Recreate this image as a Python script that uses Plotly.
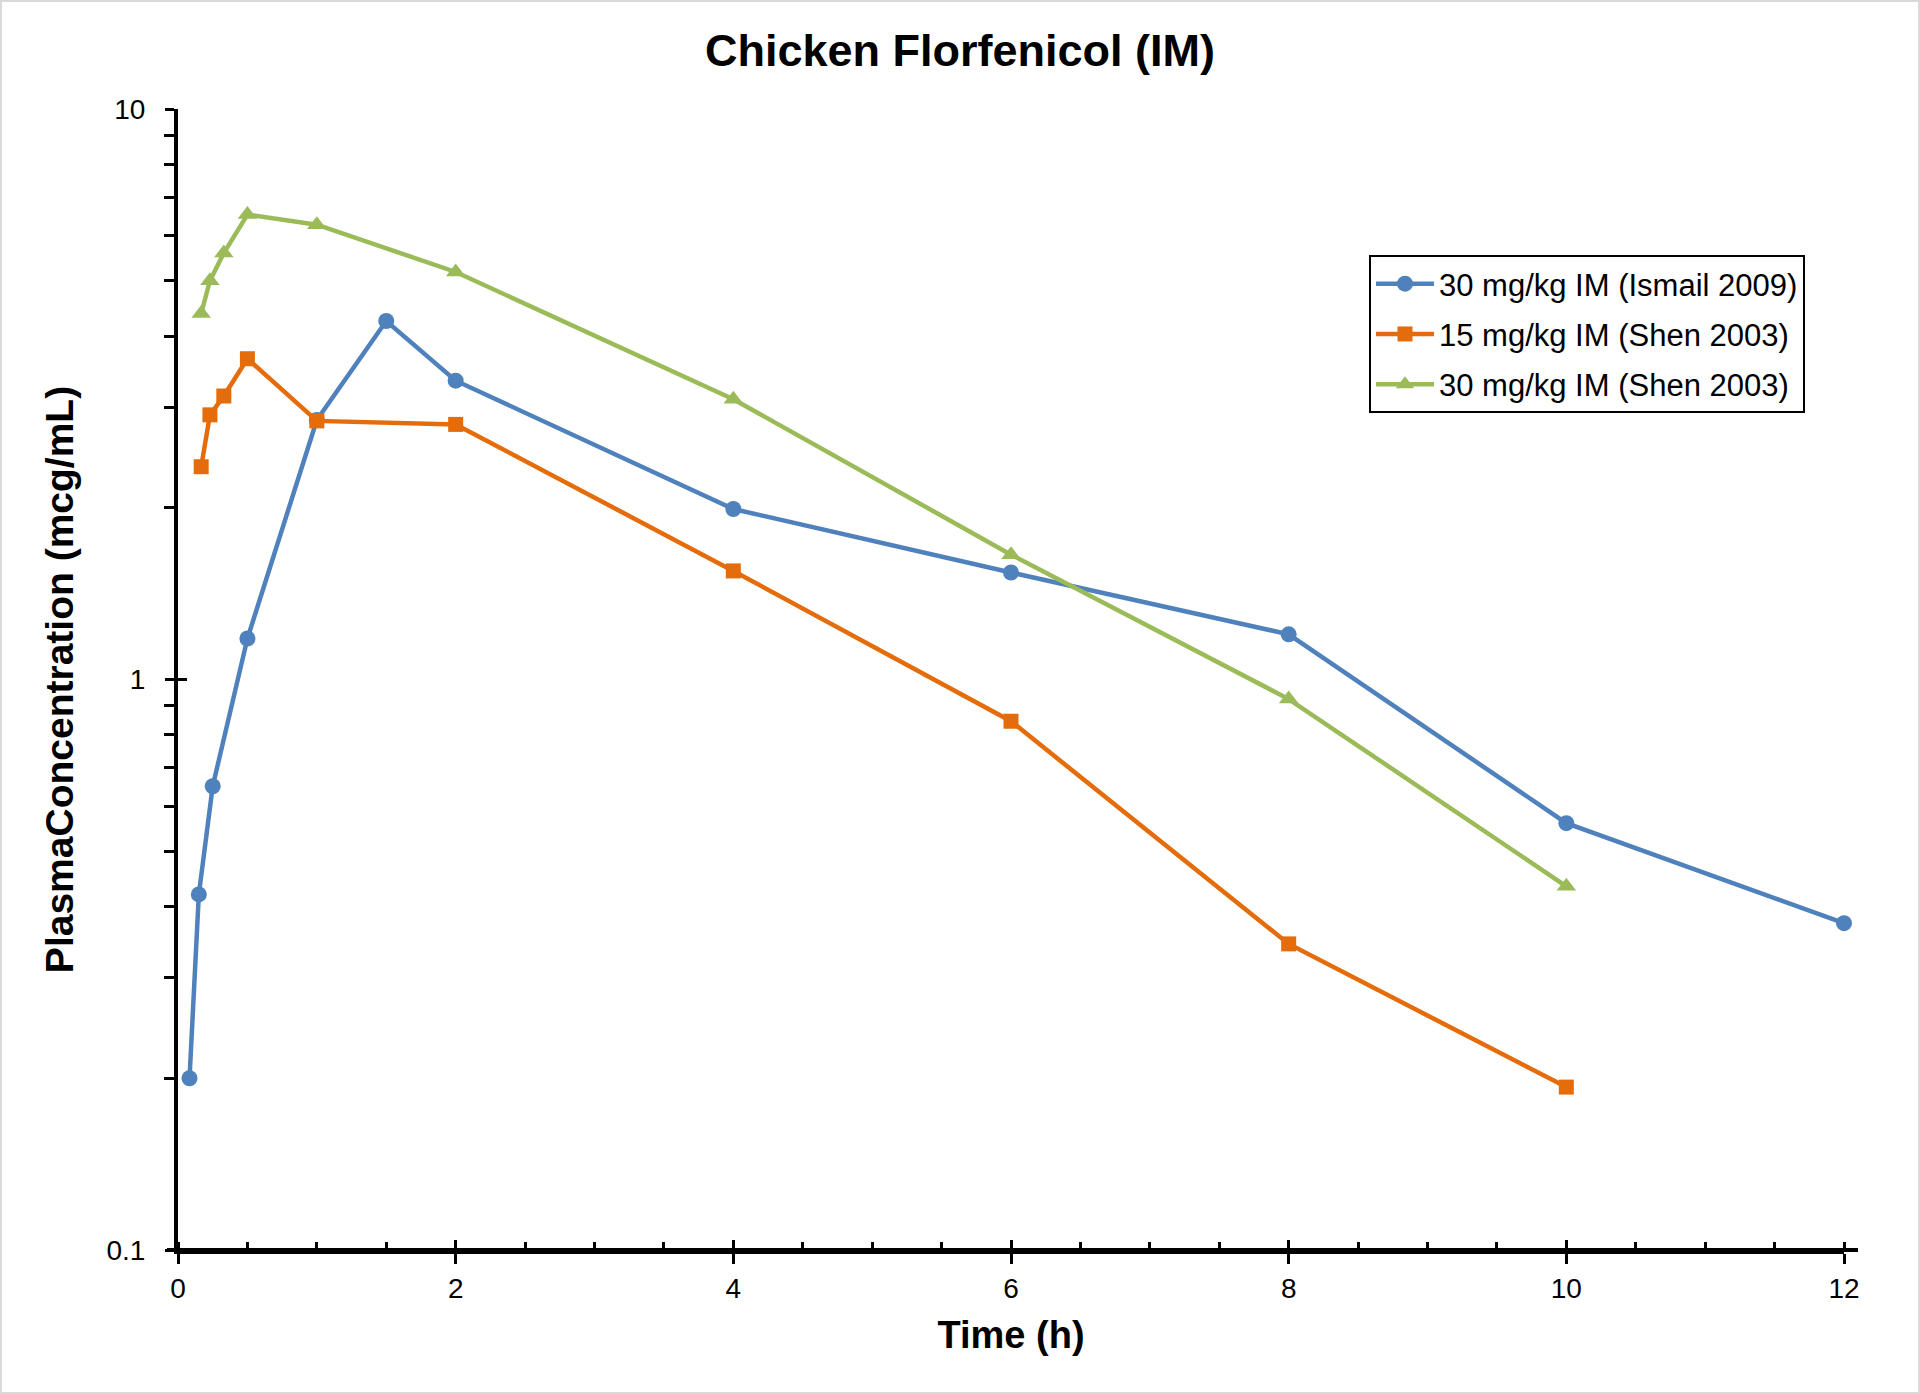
import plotly.graph_objects as go

# ---- data ----
ismail_names = "30 mg/kg IM (Ismail 2009)"
ismail_time = [0.083, 0.15, 0.25, 0.5, 1, 1.5, 2, 4, 6, 8, 10, 12]
ismail_conc = [0.20, 0.42, 0.65, 1.18, 2.85, 4.25, 3.34, 1.99, 1.54, 1.20, 0.56, 0.374]

shen15_name = "15 mg/kg IM (Shen 2003)"
shen15_time = [0.167, 0.23, 0.33, 0.5, 1, 2, 4, 6, 8, 10]
shen15_conc = [2.36, 2.91, 3.14, 3.65, 2.84, 2.80, 1.55, 0.845, 0.344, 0.193]

shen30_name = "30 mg/kg IM (Shen 2003)"
shen30_time = [0.167, 0.23, 0.33, 0.5, 1, 2, 4, 6, 8, 10]
shen30_conc = [4.38, 5.00, 5.59, 6.53, 6.27, 5.18, 3.10, 1.655, 0.924, 0.434]

x_ticks = [0, 2, 4, 6, 8, 10, 12]
y_ticks = [0.1, 1, 10]
y_ticklabels = ["0.1", "1", "10"]
y_minor = [m * d for d in (0.1, 1) for m in range(2, 10)]

BLUE = "#4F81BD"
ORANGE = "#E46C0A"
GREEN = "#9BBB59"
FONT = "Liberation Sans, Arial, sans-serif"

W, H = 1920, 1394
ML, MR, MT, MB = 178, 76, 109, 144

fig = go.Figure()
series = [
    (ismail_names, ismail_time, ismail_conc, BLUE, "circle", 16),
    (shen15_name, shen15_time, shen15_conc, ORANGE, "square", 15),
    (shen30_name, shen30_time, shen30_conc, GREEN, "triangle-up", 17),
]
for i, (name, t, c, col, sym, sz) in enumerate(series):
    fig.add_trace(go.Scatter(
        x=t, y=c, name=name, mode="lines+markers",
        line=dict(color=col, width=4.5),
        marker=dict(color=col, symbol=sym, size=sz, line=dict(width=0)),
        legendgroup=f"g{i}", cliponaxis=False,
    ))

# invisible trace for overlay axes (cross ticks)
fig.add_trace(go.Scatter(x=[0], y=[1], xaxis="x2", yaxis="y2", mode="markers",
                         marker=dict(opacity=0), showlegend=False, hoverinfo="skip"))

pw = W - ML - MR
ph = H - MT - MB

fig.update_layout(
    width=W, height=H,
    margin=dict(l=ML, r=MR, t=MT, b=MB, pad=0),
    paper_bgcolor="white", plot_bgcolor="white",
    font=dict(family=FONT, color="black", size=28),
    title=dict(text="<b>Chicken Florfenicol (IM)</b>", x=0.5, xref="container", xanchor="center",
               y=1 - 50 / H, yanchor="middle",
               font=dict(size=45, family=FONT, color="black")),
    showlegend=True,
    legend=dict(x=(1369 - ML) / pw, y=(H - MB - 255) / ph, xanchor="left", yanchor="top",
                bordercolor="black", borderwidth=2, bgcolor="white",
                font=dict(size=31, family=FONT, color="black"),
                traceorder="grouped", tracegroupgap=7, itemwidth=58),
    xaxis=dict(
        range=[0, 12], tickvals=x_ticks, showgrid=False, zeroline=False,
        showline=True, linecolor="black", linewidth=4,
        ticks="outside", ticklen=10, tickwidth=3, tickcolor="black",
        tickfont=dict(size=28, family=FONT), ticklabelstandoff=0, automargin=False,
        minor=dict(dtick=0.5, ticks="inside", ticklen=8, tickwidth=3, tickcolor="black", showgrid=False),
        title=dict(text="<b>Time (h)</b>", font=dict(size=38, family=FONT), standoff=20),
    ),
    yaxis=dict(
        type="log", range=[-1, 1], tickvals=y_ticks, ticktext=y_ticklabels,
        showgrid=False, zeroline=False, automargin=False,
        showline=True, linecolor="black", linewidth=4,
        ticks="outside", ticklen=9, tickwidth=3, tickcolor="black",
        tickfont=dict(size=28, family=FONT), ticklabelstandoff=14,
        minor=dict(tickmode="array", tickvals=y_minor, ticks="outside", ticklen=10,
                   tickwidth=3, tickcolor="black", showgrid=False),
        title=dict(text="<b>PlasmaConcentration (mcg/mL)</b>", font=dict(size=39, family=FONT), standoff=22),
    ),
    xaxis2=dict(overlaying="x", matches="x", range=[0, 12], tickvals=x_ticks, showticklabels=False,
                ticks="inside", ticklen=10, tickwidth=3, tickcolor="black", showgrid=False,
                zeroline=False, showline=False, side="bottom"),
    yaxis2=dict(overlaying="y", type="log", range=[-1, 1], tickvals=y_ticks, showticklabels=False,
                ticks="inside", ticklen=9, tickwidth=3, tickcolor="black", showgrid=False,
                zeroline=False, showline=False, side="left"),
    shapes=[
        dict(type="line", xref="x domain", yref="y domain",
             x0=-11 / pw, x1=1 + 14 / pw, y0=0, y1=0,
             line=dict(color="black", width=4), layer="above"),
        dict(type="rect", xref="paper", yref="paper",
             x0=-ML / pw + 1 / pw, x1=1 + MR / pw - 1 / pw,
             y0=-MB / ph + 1 / ph, y1=1 + MT / ph - 1 / ph,
             line=dict(color="#D9D9D9", width=2), layer="below"),
    ],
)

fig.write_html(
    "out.html",
    config={"displayModeBar": False},
    post_script="document.body.style.margin='0';document.body.style.padding='0';document.body.style.overflow='hidden';",
)
